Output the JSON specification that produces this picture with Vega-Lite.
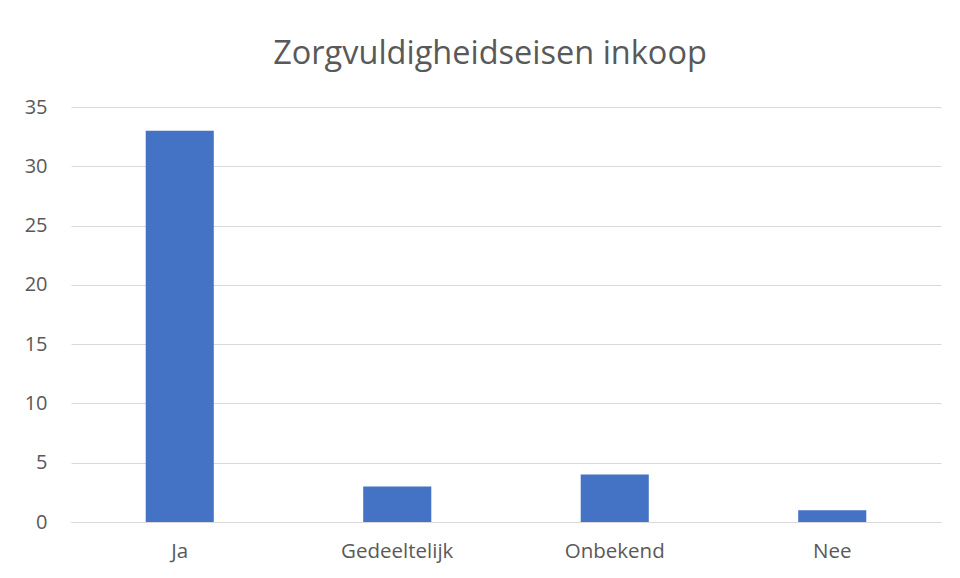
{
  "$schema": "https://vega.github.io/schema/vega-lite/v6.json",
  "width": 870,
  "height": 415,
  "autosize": {"type": "none"},
  "padding": {"left": 71, "top": 107, "right": 19, "bottom": 56},
  "background": "#ffffff",
  "title": {
    "text": "Zorgvuldigheidseisen inkoop",
    "font": "Open Sans",
    "fontSize": 32.5,
    "fontWeight": "normal",
    "color": "#595959",
    "anchor": "middle",
    "dx": -16,
    "offset": 27
  },
  "data": {
    "values": [
      {"categorie": "Ja", "aantal": 33},
      {"categorie": "Gedeeltelijk", "aantal": 3},
      {"categorie": "Onbekend", "aantal": 4},
      {"categorie": "Nee", "aantal": 1}
    ]
  },
  "mark": {"type": "bar", "color": "#4472c4"},
  "encoding": {
    "x": {
      "field": "categorie",
      "type": "nominal",
      "sort": null,
      "scale": {"paddingInner": 0.687, "paddingOuter": 0.3435},
      "axis": {
        "title": null,
        "labelAngle": 0,
        "labelFont": "Open Sans",
        "labelFontSize": 20.5,
        "labelColor": "#595959",
        "labelPadding": 19,
        "ticks": false,
        "domainColor": "#d9d9d9",
        "domainWidth": 1
      }
    },
    "y": {
      "field": "aantal",
      "type": "quantitative",
      "scale": {"domain": [0, 35], "nice": false},
      "axis": {
        "title": null,
        "values": [0, 5, 10, 15, 20, 25, 30, 35],
        "labelFont": "Open Sans",
        "labelFontSize": 20,
        "labelColor": "#595959",
        "labelPadding": 24,
        "ticks": false,
        "domain": false,
        "gridColor": "#d9d9d9",
        "gridWidth": 1
      }
    }
  },
  "config": {"view": {"stroke": null}}
}
